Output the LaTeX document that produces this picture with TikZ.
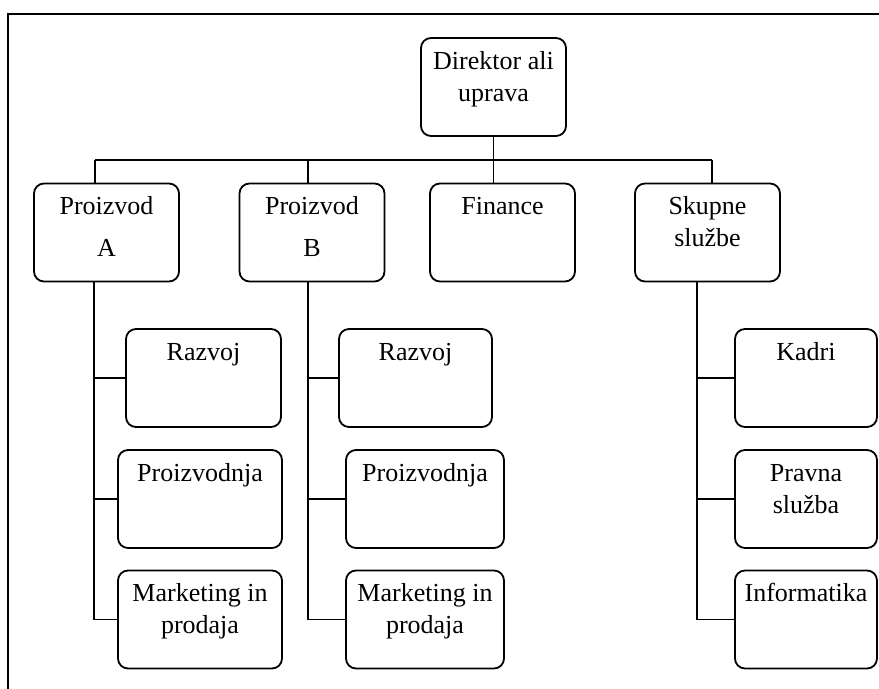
\documentclass[tikz,border=0pt]{standalone}
\usepackage{fontspec}
\setmainfont{Liberation Serif}
\usepackage{tikz}
\usetikzlibrary{positioning,calc}
\tikzset{unit/.style={draw=black, line width=0.9pt, rounded corners=5pt, inner sep=0pt, minimum height=49pt, minimum width=#1, execute at begin node={\begin{minipage}[t][40pt][t]{#1}\centering\strut}, execute at end node={\end{minipage}}}, unit/.default=72.5pt}
\tikzstyle{link}=[line width=0.75pt]
\tikzstyle{frame}=[line width=1.3pt]

\begin{document}
\begin{tikzpicture}[x=0.5pt, y=-0.5pt, font=\fontsize{13}{16}\selectfont]
        \useasboundingbox (0,0) rectangle (879,689);
        \draw[frame] (8,689) -- (8,14) -- (879,14);

        \node[unit] (uprava) at (493.5,87) {Direktor ali\\uprava};
        \node[unit] (proA) at (106.5,232.5) {Proizvod\\[5pt]A};
        \node[unit] (proB) at (312,232.5) {Proizvod\\[5pt]B};
        \node[unit] (finance) at (502.5,232.5) {Finance};
        \node[unit] (skupne) at (707.5,232.5) {Skupne\\službe};

        \node[unit=77.5pt] (razA) at (203.5,378) {Razvoj};
        \node[unit=82pt] (prodA) at (200,499) {Proizvodnja};
        \node[unit=82pt] (markA) at (200,619.5) {Marketing in\\prodaja};

        \node[unit=76.5pt] (razB) at (415.5,378) {Razvoj};
        \node[unit=79pt] (prodB) at (425,499) {Proizvodnja};
        \node[unit=79pt] (markB) at (425,619.5) {Marketing in\\prodaja};

        \node[unit=71pt] (kadri) at (806,378) {Kadri};
        \node[unit=71pt] (pravna) at (806,499) {Pravna\\služba};
        \node[unit=71pt] (info) at (806,619.5) {Informatika};

        % top level
        \coordinate (busA) at (95,160);
        \coordinate (busB) at (308,160);
        \coordinate (busS) at (712,160);
        \draw[link] (uprava.south) -- (uprava.south |- finance.north);
        \draw[link] (busA) -- (busS);
        \draw[link] (busA) -- (busA |- proA.north);
        \draw[link] (busB) -- (busB |- proB.north);
        \draw[link] (busS) -- (busS |- skupne.north);

        % branches
        \coordinate (trunkA) at (94,282);
        \coordinate (trunkB) at (308,282);
        \coordinate (trunkS) at (697,282);
        \foreach \t/\a/\b/\c in {trunkA/razA/prodA/markA, trunkB/razB/prodB/markB, trunkS/kadri/pravna/info} {
            \draw[link] (\t) |- (\a.west);
            \draw[link] (\t) |- (\b.west);
            \draw[link] (\t) |- (\c.west);
        }
    \end{tikzpicture}
\end{document}
